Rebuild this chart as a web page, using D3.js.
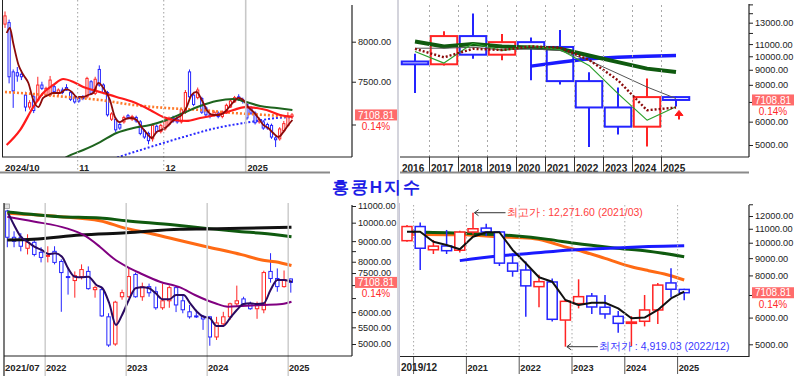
<!DOCTYPE html>
<html><head><meta charset="utf-8">
<script src="https://cdn.jsdelivr.net/npm/d3@7"></script>
<style>body{margin:0;background:#fff}svg{display:block}text{font-family:"Liberation Sans",Arial,sans-serif}</style>
</head><body><svg id="c" width="798" height="376"></svg>
<script>
// ================= DATA =================
const lastPrice = 7108.81, lastPct = "0.14%";
const chartTitle = "홍콩H지수";

// --- Top-left: daily candles 2024/10/07 .. 2025/01/17 ---
const dayOpen  = [8230,8250,7620,7610,7590,7340,7200,7320,7280,7460,7340,7340,7440,7360,7400,7430,7370,7310,7300,7320,7320,7500,7360,7650,7460,7370,7060,7060,7000,7030,7100,7060,7080,7030,6930,6900,6840,6980,6920,6950,7000,7070,7060,7030,7140,7620,7340,7310,7300,7190,7110,7110,7130,7090,7130,7200,7260,7320,7280,7230,7190,7130,7030,7030,7000,6990,6850,6840,6930,6990,7090];
const dayHigh  = [8400,8290,7650,7680,7640,7380,7280,7340,7560,7500,7440,7570,7470,7420,7430,7470,7390,7330,7320,7340,7560,7520,7560,7700,7480,7390,7140,7080,7030,7100,7120,7110,7100,7050,6950,6920,7010,7000,7010,7060,7090,7100,7090,7190,7400,7650,7360,7430,7320,7210,7130,7160,7150,7160,7240,7290,7330,7350,7310,7250,7210,7150,7080,7050,7020,7010,6870,6970,7040,7140,7130];
const dayLow   = [8180,7480,7190,7500,7520,7150,7170,7130,7260,7400,7320,7320,7360,7330,7350,7390,7270,7240,7250,7280,7300,7340,7340,7440,7350,7090,7040,6910,6940,7010,7060,7040,7020,6880,6840,6780,6810,6900,6900,6930,6980,7020,7010,7010,7120,7300,7210,7290,7120,7090,7070,7090,7070,7070,7120,7190,7250,7270,7240,7050,7110,7000,7010,6940,6940,6840,6750,6820,6910,6970,7060];
const dayClose = [8340,7560,7390,7570,7560,7200,7250,7160,7460,7420,7420,7520,7380,7400,7370,7400,7290,7260,7270,7300,7540,7360,7530,7460,7370,7110,7120,6940,6960,7080,7080,7090,7040,6900,6860,6820,6990,6920,6990,7040,7070,7040,7030,7170,7370,7320,7230,7400,7140,7110,7095,7140,7090,7145,7220,7270,7310,7290,7270,7074,7130,7020,7060,6960,6960,6860,6830,6950,7010,7099,7108.81];
const dayLabelIdx = [0,18,39,59];
const dayLabels   = ["2024/10","11","12","2025"];
// moving averages: [day index, value]
const dayMA5   = [[0.4,8113],[1.2,8179],[2.0,7983],[3.3,7705],[4.5,7582],[5.7,7485],[6.9,7282],[8.1,7200],[9.3,7306],[10.6,7341],[11.8,7365],[13.4,7365],[15.0,7412],[16.3,7377],[17.5,7318],[19.1,7318],[20.3,7341],[21.5,7365],[22.8,7485],[24.0,7424],[25.6,7282],[26.8,7085],[28.0,7028],[29.3,7062],[30.9,7074],[32.1,7051],[33.3,6972],[34.5,6905],[35.8,6849],[37.0,6917],[38.2,6939],[39.4,6972],[40.6,7028],[41.9,7074],[43.1,7108],[44.3,7200],[45.5,7341],[46.7,7377],[48.0,7282],[49.2,7166],[50.8,7108],[52.0,7108],[53.3,7131],[54.5,7189],[55.7,7258],[56.9,7306],[58.1,7282],[59.3,7200],[60.6,7143],[61.8,7074],[63.0,6995],[64.2,6961],[65.4,6905],[66.7,6860],[67.9,6917],[69.1,6995],[70.1,7051]];
const dayMA20  = [[0.4,6772],[3.7,6939],[6.9,7200],[9.3,7365],[11.8,7461],[14.2,7533],[16.7,7497],[19.1,7436],[21.5,7400],[24.0,7365],[27.2,7318],[31.3,7258],[35.4,7166],[38.6,7085],[41.1,7051],[44.3,7040],[47.6,7074],[51.6,7108],[55.7,7166],[58.5,7200],[61.4,7189],[63.8,7166],[67.1,7108],[70.1,7085]];
const dayMA60  = [[0,7377],[6.9,7353],[15.0,7318],[23.2,7282],[31.3,7224],[39.4,7189],[47.6,7166],[55.7,7131],[63.8,7108],[70.1,7085]];
const dayMA120 = [[12.6,6557],[15.0,6641],[19.1,6718],[23.2,6805],[27.2,6905],[31.3,6961],[35.4,6995],[39.4,7051],[43.5,7131],[47.6,7212],[51.6,7270],[55.7,7294],[58.9,7258],[62.2,7212],[66.3,7189],[70.1,7166]];
const dayMA240 = [[25.5,6610],[27.6,6641],[35.4,6750],[43.5,6860],[51.6,6961],[59.8,7028],[66.3,7074],[70.1,7085]];
const dayTicks = [7000,7500,8000];
const dayTickLabels = [7500,8000];

// --- Top-right: yearly candles ---
const years     = ["2016","2017","2018","2019","2020","2021","2022","2023","2024","2025"];
const yearOpen  = [9600,9394,11709,10124,11168,10755,8236,6704,5769,7270];
const yearHigh  = [10200,12150,13962,11900,11570,12271.6,8820,7830,8400,7300];
const yearLow   = [7500,9300,9800,9700,8285,8020,4919.03,5430,4943,6750];
const yearClose = [9394,11709,10124,11168,10755,8236,6704,5769,7270,7108.81];
const yearMAgreen   = [11220,10800,11000,10800,10700,10600,10060,9550,9080,8840];
const yearMAblue    = [null,null,null,null,9260,9550,9810,9930,10010,10060];
const yearMAgray    = [10650,10650,10730,10510,10600,10460,9680,8730,7865,7190];
const yearMAthin    = [10380,9480,11070,10460,10820,10540,9310,7470,6070,6740];
const yearMAdotted  = [10600,9920,10600,10500,10800,10700,9730,8290,6560,6700];
const yearArrow     = [6100,6550];
const yearTicks = [5000,6000,7000,8000,9000,10000,11000,12000,13000,14000,15000];
const yearTickLabels = [5000,6000,8000,9000,10000,11000,13000];

// --- Bottom-left: monthly candles 2021/07 .. 2025/01 ---
const monOpen  = [10690,9200,9200,8640,8940,8440,8250,8490,8010,7350,7185,7350,7570,6820,6820,5840,5000,6550,6550,7440,6550,6940,6740,6150,6400,6900,6400,6010,5870,5860,5840,5205,5610,5840,6290,6470,6290,6116,6080,7570,7270,6940,7250];
const monHigh  = [10760,9520,9420,9360,9090,8690,8740,8740,8110,7740,7570,7880,7790,6980,6940,5960,6400,6820,7740,7520,7100,7060,6940,7060,6980,6950,6630,6250,6080,5900,5870,5840,6010,6330,6980,6550,6370,6370,7600,8400,7700,7610,7270];
const monLow   = [8690,8690,8490,8340,8250,7970,7970,7880,6010,6630,6515,7230,6820,6515,5840,4919,4950,6440,6515,6515,6400,6550,6080,6080,6150,6000,5960,5780,5800,5420,4950,5116,5510,5740,6200,6200,6080,5774,5960,7100,6740,6900,6705];
const monClose = [9200,8990,8740,8940,8340,8200,8296,7970,7520,7310,7390,7650,6860,6900,5870,4971,6350,6704,7350,6550,6940,6700,6150,6400,6900,6250,6080,5840,5840,5769,5205,5640,5840,6290,6400,6290,6116,6258,7520,7270,6940,7226,7108.81];
const monLabelIdx = [0,6,18,30,42];
const monLabels   = ["2021/07","2022","2023","2024","2025"];
const monMAgreen  = [[0,10630],[7.8,10350],[13.7,10270],[17.6,10115],[24.8,9870],[29.5,9680],[34.7,9500],[37.7,9410],[42.1,9230]];
const monMAorange = [[0,10550],[7.8,10350],[13.7,10115],[17.6,9680],[21.1,9410],[24.8,9095],[29.5,8719],[34.7,8330],[37.7,8080],[39.7,8000],[42.1,7830]];
const monMAblack  = [[0,9058],[3.8,9095],[10.8,9321],[17.6,9440],[25.6,9630],[29.5,9647],[34.7,9680],[42.1,9740]];
const monMApurple = [[0,10350],[3.9,10070],[8.8,9680],[11.3,9321],[13.7,8719],[15.7,8160],[17.7,7777],[19.7,7490],[22.6,7138],[25.6,6910],[27.8,6616],[30.8,6310],[32.7,6188],[34.7,6212],[37.7,6248],[40.7,6284],[42.1,6367]];
const monMAnavy   = [[0.15,10550],[1,9870],[2,9232],[3,8970],[4,8719],[5.1,8555],[6.1,8362],[7.1,8395],[8.1,8234],[9,7707],[10,7345],[11,7320],[12,7345],[13.2,7005],[14.1,6875],[15.1,6310],[16.1,5573],[17,5901],[18,6429],[19,6875],[20,6910],[21,6875],[22,6680],[23,6455],[24,6455],[25,6616],[26.1,6616],[27.1,6310],[28.1,6013],[29,5850],[30,5795],[31,5542],[32,5542],[33,5795],[34,6072],[35,6284],[36,6310],[37,6284],[38,6310],[39,6807],[40,7208],[41,7208],[42.2,7138]];
const monTicks = [5000,5500,6000,6500,7000,7500,8000,8500,9000,10000,11000];
const monTickLabels = [5000,5500,6000,7500,8000,9000,10000,11000];

// --- Bottom-right: quarterly candles 2019/12 .. 2025/03 ---
const qOpen  = [10140,11168,9530,9780,9500,10755,11050,10760,8700,8300,7410,7650,5900,6600,6950,6440,6050,5769,5850,6320,7600,7270];
const qHigh  = [11290,11470,10190,10910,10850,12271.6,11380,10810,9300,8790,8030,7840,6800,7790,7100,7000,6280,6060,7000,7600,8400,7300];
const qLow   = [10070,8300,9260,9260,9350,10570,10470,8530,7930,6030,6440,5840,4919.03,6390,6150,5950,5410,4943,5650,5740,6890,6750];
const qClose = [11168,9630,9770,9470,10755,11000,10760,8700,8236,7450,7665,5930,6704,6920,6450,6150,5769,5820,6320,7490,7280,7108.81];
const qLabelIdx = [0,5,9,13,17,21];
const qLabels   = ["2019/12","2021","2022","2023","2024","2025"];
const qGridIdx  = [1,5,9,13,17,21];
const qMAblack  = [10780,10780,10070,9850,9560,10420,10740,10740,9520,8690,7900,7665,6766,6540,6640,6640,6390,5970,6000,6320,6840,7160];
const qMAgreen  = [[0,10780],[4.4,10660],[8.1,10490],[10.7,10230],[12.7,9960],[15.7,9650],[18.3,9430],[21,9090]];
const qMAorange = [[0,10600],[4.4,10550],[6.9,10420],[9.4,10310],[10.7,10070],[11.9,9740],[12.9,9520],[15,8990],[17,8490],[18.3,8264],[19.5,8080],[21,7755]];
const qMAblue   = [[4,8850],[6.9,9135],[9.4,9305],[12.4,9520],[15.7,9650],[18.3,9740],[21,9790]];
const qHighNote = {idx:5, value:12271.60, text:"최고가 : 12,271.60 (2021/03)"};
const qLowNote  = {idx:12, value:4919.03, text:"최저가 : 4,919.03 (2022/12)"};
const qTicks = [5000,6000,7000,8000,9000,10000,11000,12000,13000];
const qTickLabels = [5000,6000,8000,9000,10000,11000,12000];

// ================= DRAWING =================
const RED = "#ff2424", BLUE = "#2424ff";
const svg = d3.select("#c");
const defs = svg.append("defs");
function clip(id, x, y, w, h){ defs.append("clipPath").attr("id",id).append("rect").attr("x",x).attr("y",y).attr("width",w).attr("height",h); return "url(#"+id+")"; }

function drawCandles(g, O, Hh, L, C, x, y, w, sw){
  const idx = d3.range(O.length);
  const col = i => C[i] >= O[i] ? RED : BLUE;
  g.selectAll(null).data(idx).join("line")
    .attr("x1", i=>x(i)).attr("x2", i=>x(i))
    .attr("y1", i=>y(Hh[i])).attr("y2", i=>y(L[i]))
    .attr("stroke", col).attr("stroke-width", sw);
  g.selectAll(null).data(idx).join("rect")
    .attr("x", i=>x(i)-w/2).attr("width", w)
    .attr("y", i=>y(Math.max(O[i],C[i])))
    .attr("height", i=>Math.max(1, y(Math.min(O[i],C[i])) - y(Math.max(O[i],C[i]))))
    .attr("fill", "#fff").attr("stroke", col).attr("stroke-width", sw);
}
function drawKnots(g, pts, x, y, color, width, dash){
  const p = g.append("path").datum(pts)
    .attr("d", d3.line().x(d=>x(d[0])).y(d=>y(d[1])).curve(d3.curveMonotoneX))
    .attr("fill","none").attr("stroke",color).attr("stroke-width",width)
    .attr("stroke-linejoin","round");
  if (dash) p.attr("stroke-dasharray", dash);
}
function drawSeries(g, vals, x, y, color, width, dash){
  const p = g.append("path").datum(vals)
    .attr("d", d3.line().defined(d=>d!=null).x((d,i)=>x(i)).y(d=>y(d)))
    .attr("fill","none").attr("stroke",color).attr("stroke-width",width).attr("stroke-linejoin","round");
  if (dash) p.attr("stroke-dasharray", dash);
}
function drawAxis(axX, y, ticks, labels, top, bottom){
  const g = svg.append("g").attr("transform","translate("+axX+",0)")
    .call(d3.axisRight(y).tickValues(ticks).tickSize(4).tickPadding(2)
      .tickFormat(d => labels.includes(d) ? d3.format(".2f")(d) : ""));
  g.select(".domain").remove();
  g.selectAll("line").attr("stroke","#222");
  g.selectAll("text").attr("font-size",9.2).attr("fill","#222").attr("font-family","Liberation Sans, Arial, sans-serif");
  g.selectAll(".tick").filter(d => y(d) < top - 1 || y(d) > bottom + 1).remove();
  svg.append("line").attr("x1",axX).attr("x2",axX).attr("y1",top).attr("y2",bottom).attr("stroke","#222").attr("stroke-width",1.2);
}
function priceLabel(xl, yv, whiteBg){
  if (whiteBg) svg.append("rect").attr("x",xl+2).attr("y",yv+6).attr("width",40).attr("height",9).attr("fill","#fff");
  svg.append("rect").attr("x",xl).attr("y",yv-5.5).attr("width",42).attr("height",11).attr("fill","#ff6b6b");
  svg.append("text").attr("x",xl+21).attr("y",yv+3.6).attr("text-anchor","middle").attr("font-size",10).attr("fill","#fff").text(d3.format(".2f")(lastPrice));
  svg.append("text").attr("x",xl+21).attr("y",yv+15).attr("text-anchor","middle").attr("font-size",10).attr("fill","#ff2a2a").text(lastPct);
}

// panel separator
svg.append("rect").attr("x",397).attr("y",0).attr("width",2).attr("height",376).attr("fill","#d4d4dc");

// ---------- TOP LEFT ----------
{
  const x = d3.scaleLinear().domain([0,70]).range([5,292]);
  const y = d3.scaleLog().domain([7000,8000]).range([124.5,41.7]);
  const g = svg.append("g").attr("clip-path", clip("cTL",3,0,349,157));
  dayLabelIdx.slice(1).forEach((i,k)=>{
    const gx = x(i)-1.2;
    const ln = svg.append("line").attr("x1",gx).attr("x2",gx).attr("y1",0).attr("y2",172)
      .attr("stroke", k<2 ? "#b0b0b0" : "#c8c8c8").attr("stroke-width", k<2 ? 1.2 : 1.6);
    if (k<2) ln.attr("stroke-dasharray","1.5,2.5");
  });
  drawCandles(g, dayOpen, dayHigh, dayLow, dayClose, x, y, 2.2, 1);
  drawKnots(g, dayMA240, x, y, "#2a2aff", 2, "2,2");
  drawKnots(g, dayMA60, x, y, "#ff7a2a", 2.6, "2,2");
  drawKnots(g, dayMA120, x, y, "#1e641e", 2);
  drawKnots(g, dayMA20, x, y, "#ff1a1a", 2.2);
  drawKnots(g, dayMA5, x, y, "#8b0a0a", 1.8);
  svg.append("line").attr("x1",2.5).attr("x2",2.5).attr("y1",0).attr("y2",157).attr("stroke","#222");
  svg.append("line").attr("x1",2).attr("x2",352).attr("y1",157).attr("y2",157).attr("stroke","#222").attr("stroke-width",1.2);
  drawAxis(352, y, dayTicks, dayTickLabels, 5, 157);
  svg.append("line").attr("x1",0).attr("x2",330).attr("y1",172.5).attr("y2",172.5).attr("stroke","#8a8a8a").attr("stroke-width",2);
  dayLabelIdx.forEach((i,k)=>{
    svg.append("text").attr("x", k===0 ? 5 : x(i)+0.5).attr("y",171).attr("font-size", k===0?9.6:9.2).attr("font-weight","bold").attr("fill","#222").text(dayLabels[k]);
  });
  priceLabel(355, y(lastPrice), false);
}

// ---------- TOP RIGHT ----------
{
  const x = d3.scaleLinear().domain([0,9]).range([415,676]);
  const y = d3.scaleLog().domain([5000,15000]).range([145,4.38]);
  const g = svg.append("g").attr("clip-path", clip("cTR",400,4,349,153));
  years.forEach((yr,k)=>{
    if (k>0){
      const bx = x(k)-14.5;
      svg.append("line").attr("x1",bx).attr("x2",bx).attr("y1",5).attr("y2",157).attr("stroke","#a8a8a8").attr("stroke-dasharray","2,3");
      svg.append("line").attr("x1",bx).attr("x2",bx).attr("y1",157).attr("y2",172).attr("stroke","#333");
    }
    svg.append("text").attr("x",x(k)-13).attr("y",171.5).attr("font-size",10).attr("font-weight","bold").attr("fill","#222").text(yr);
  });
  drawCandles(g, yearOpen, yearHigh, yearLow, yearClose, x, y, 26.5, 2);
  drawSeries(g, yearMAblue, x, y, "#1a1aff", 3.5);
  drawSeries(g, yearMAgreen, x, y, "#0f5a0f", 4);
  drawSeries(g, yearMAgray, x, y, "#555", 1);
  drawSeries(g, yearMAthin, x, y, "#2ca02c", 1.2);
  drawSeries(g, yearMAdotted, x, y, "#8b0a0a", 2.4, "2,2");
  // red arrow
  const ax = x(9)+3, y0 = y(yearArrow[0]), y1 = y(yearArrow[1]);
  svg.append("line").attr("x1",ax).attr("x2",ax).attr("y1",y0).attr("y2",y1+3).attr("stroke","#ff1a1a").attr("stroke-width",2);
  svg.append("path").attr("d","M"+(ax-4)+","+(y1+5)+"L"+ax+","+y1+"L"+(ax+4)+","+(y1+5)+"Z").attr("fill","#ff1a1a").attr("stroke","#ff1a1a");
  svg.append("line").attr("x1",400).attr("x2",749).attr("y1",157).attr("y2",157).attr("stroke","#222").attr("stroke-width",1.2);
  drawAxis(749, y, yearTicks, yearTickLabels, 4, 157);
  svg.append("line").attr("x1",400).attr("x2",749).attr("y1",172.5).attr("y2",172.5).attr("stroke","#8a8a8a").attr("stroke-width",2);
  priceLabel(752, y(lastPrice), false);
}

// ---------- TITLE ----------
svg.append("text").attr("x",377).attr("y",193).attr("text-anchor","middle")
  .attr("font-family","'Noto Sans CJK KR',sans-serif").attr("font-size",17).attr("font-weight","bold")
  .attr("letter-spacing",2).attr("fill","#1e1ee6").text(chartTitle);

// ---------- BOTTOM LEFT ----------
{
  const x = d3.scaleLinear().domain([0,42]).range([7.3,290.8]);
  const y = d3.scaleLog().domain([5000,11000]).range([344,206]);
  const g = svg.append("g").attr("clip-path", clip("cBL",5,203,347,153));
  monLabelIdx.slice(1).forEach(i=>{
    const gx = x(i)-2.6;
    svg.append("line").attr("x1",gx).attr("x2",gx).attr("y1",203).attr("y2",376).attr("stroke","#cdcdcd").attr("stroke-width",1.5);
  });
  drawCandles(g, monOpen, monHigh, monLow, monClose, x, y, 3.4, 1);
  drawKnots(g, monMAorange, x, y, "#ff6a14", 3);
  drawKnots(g, monMAgreen, x, y, "#0f5a0f", 3);
  drawKnots(g, monMAblack, x, y, "#111", 3);
  drawKnots(g, monMApurple, x, y, "#800080", 2);
  drawKnots(g, monMAnavy, x, y, "#2a0a60", 2);
  svg.append("rect").attr("x",4.5).attr("y",204).attr("width",5).attr("height",4.5).attr("fill","#e0e0e0").attr("stroke","#9a9a9a").attr("stroke-width",0.8);
  svg.append("line").attr("x1",4).attr("x2",4).attr("y1",203).attr("y2",376).attr("stroke","#222").attr("stroke-width",1.2);
  svg.append("line").attr("x1",4).attr("x2",352).attr("y1",356).attr("y2",356).attr("stroke","#222").attr("stroke-width",1.2);
  drawAxis(352, y, monTicks, monTickLabels, 205, 356);
  monLabelIdx.forEach((i,k)=>{
    svg.append("text").attr("x", k===0 ? 5 : x(i)-1.8).attr("y",371).attr("font-size", k===0?9.6:9.2).attr("font-weight","bold").attr("fill","#222").text(monLabels[k]);
  });
  priceLabel(355, y(lastPrice), true);
}

// ---------- BOTTOM RIGHT ----------
{
  const x = d3.scaleLinear().domain([0,21]).range([407,684.2]);
  const y = d3.scaleLog().domain([5000,12000]).range([344.3,216]);
  const g = svg.append("g").attr("clip-path", clip("cBR",400,203,349,153));
  qGridIdx.forEach(i=>{
    const gx = x(i)-6.6;
    svg.append("line").attr("x1",gx).attr("x2",gx).attr("y1",205).attr("y2",356).attr("stroke","#a8a8a8").attr("stroke-dasharray","1.5,2.5");
    svg.append("line").attr("x1",gx).attr("x2",gx).attr("y1",356).attr("y2",374).attr("stroke","#555");
  });
  drawKnots(g, qMAorange, x, y, "#ff6a14", 3);
  drawKnots(g, qMAgreen, x, y, "#0f5a0f", 3);
  drawKnots(g, qMAblue, x, y, "#1a1aff", 3);
  drawCandles(g, qOpen, qHigh, qLow, qClose, x, y, 10, 1.5);
  drawSeries(g, qMAblack, x, y, "#111", 2);
  // annotations
  [[qHighNote,"#ff4040"],[qLowNote,"#3a3aff"]].forEach(([n,c])=>{
    const tx = x(n.idx)+1.5, ty = y(n.value), len = 31;
    svg.append("line").attr("x1",tx).attr("x2",tx+len).attr("y1",ty).attr("y2",ty).attr("stroke","#333");
    svg.append("path").attr("d","M"+(tx+4)+","+(ty-3)+"L"+tx+","+ty+"L"+(tx+4)+","+(ty+3)).attr("fill","none").attr("stroke","#333");
    svg.append("text").attr("x",tx+len+1).attr("y",ty+3.5).attr("font-size",10.5).attr("fill",c).text(n.text);
  });
  svg.append("line").attr("x1",399.5).attr("x2",399.5).attr("y1",203).attr("y2",376).attr("stroke","#c8c8d8");
  svg.append("line").attr("x1",400).attr("x2",749).attr("y1",356.5).attr("y2",356.5).attr("stroke","#222").attr("stroke-width",1.2);
  drawAxis(749, y, qTicks, qTickLabels, 205, 357);
  qLabelIdx.forEach((i,k)=>{
    svg.append("text").attr("x", k===0 ? 401 : x(i)-5.5).attr("y",371).attr("font-size", k===0?10:9.2).attr("font-weight","bold").attr("fill","#222").text(qLabels[k]);
  });
  priceLabel(752, y(lastPrice), false);
}
</script></body></html>
